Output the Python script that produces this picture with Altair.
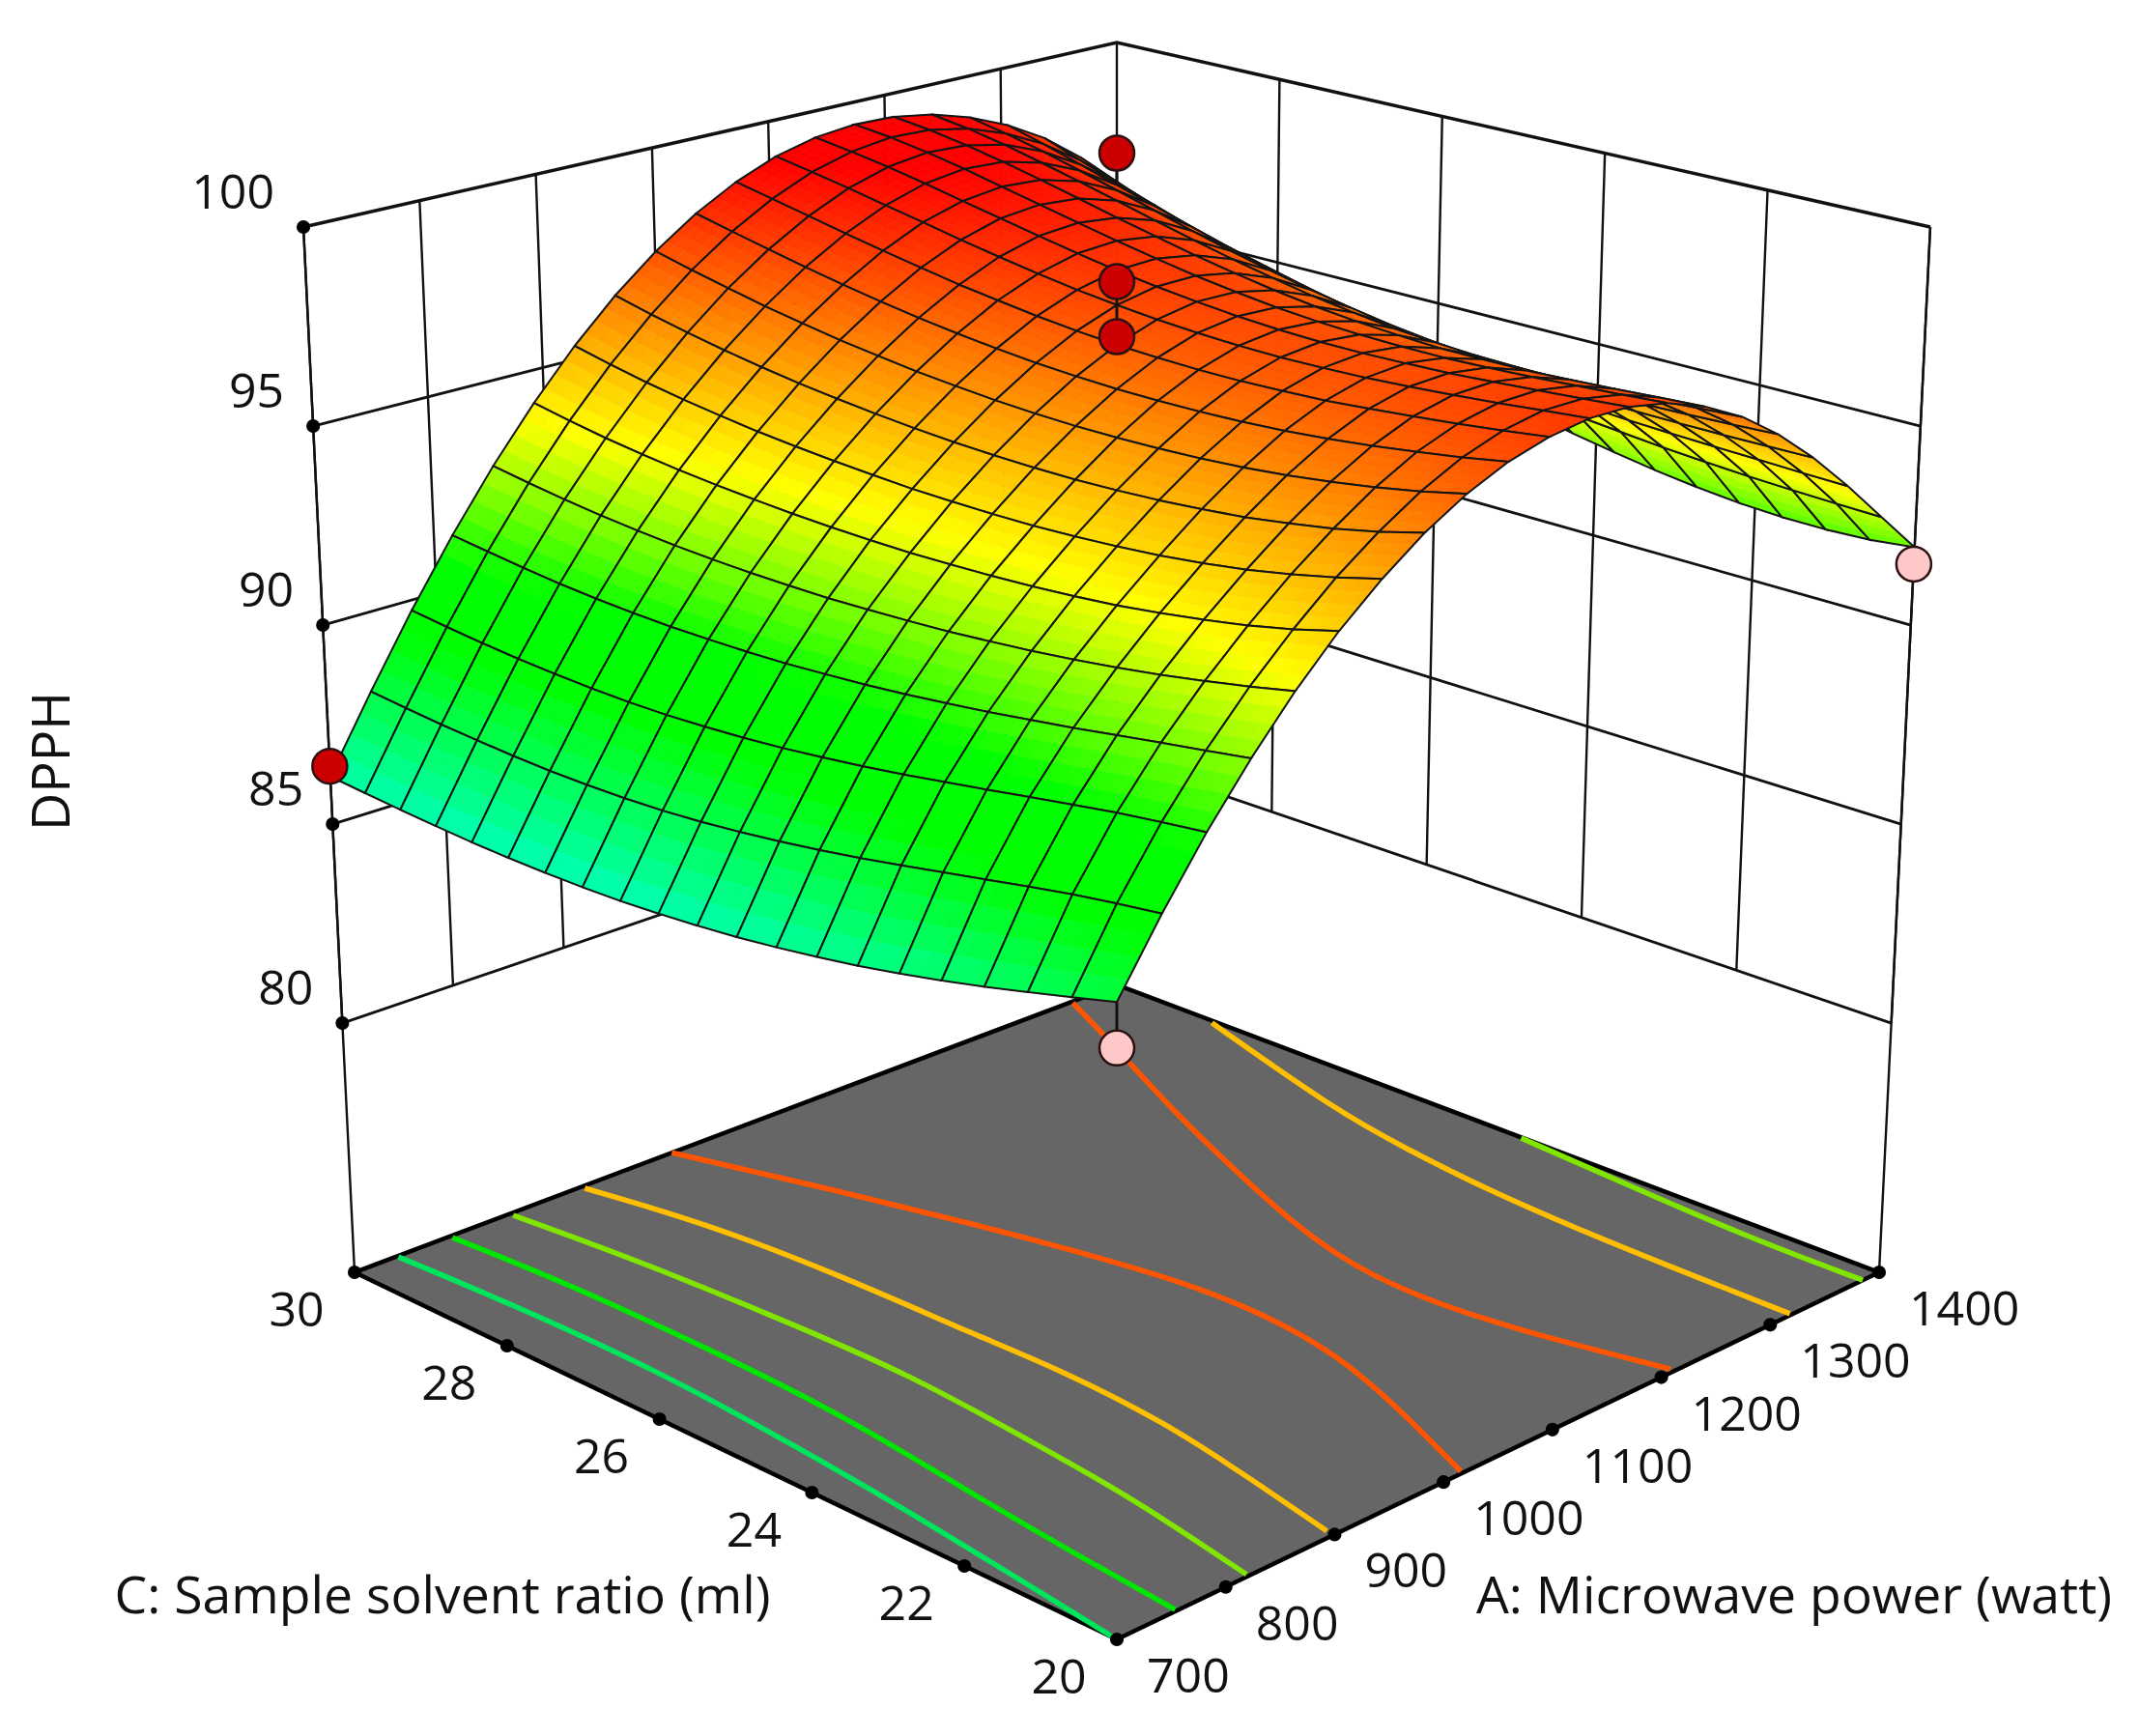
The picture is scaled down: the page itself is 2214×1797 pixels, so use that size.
import altair as alt
import pandas as pd

# ---- data ----
A_TICKS = [700, 800, 900, 1000, 1100, 1200, 1300, 1400]
C_TICKS = [20, 22, 24, 26, 28, 30]
Z_TICKS = [80, 85, 90, 95, 100]
A_GRID = [700 + 35 * i for i in range(21)]
C_GRID = [20 + 0.5 * j for j in range(21)]
# DPPH, one row per C_GRID value, one column per A_GRID value
DPPH = [
 [88.31,89.92,91.39,92.70,93.87,94.89,95.75,96.48,97.06,97.49,97.77,97.91,97.89,97.70,97.34,96.82,96.12,95.27,94.29,93.24,92.19],
 [88.03,89.78,91.26,92.53,93.64,94.61,95.47,96.20,96.82,97.30,97.63,97.81,97.80,97.62,97.27,96.75,96.07,95.26,94.32,93.27,92.07],
 [87.76,89.62,91.12,92.37,93.44,94.38,95.23,95.97,96.62,97.14,97.50,97.70,97.72,97.55,97.20,96.68,96.03,95.25,94.36,93.31,92.03],
 [87.50,89.43,90.95,92.20,93.25,94.19,95.03,95.79,96.45,96.99,97.39,97.61,97.64,97.48,97.14,96.63,96.00,95.25,94.39,93.36,92.04],
 [87.26,89.23,90.78,92.03,93.09,94.03,94.87,95.63,96.31,96.87,97.29,97.53,97.57,97.43,97.09,96.60,95.98,95.26,94.43,93.43,92.10],
 [87.04,89.03,90.60,91.88,92.95,93.89,94.74,95.52,96.20,96.77,97.20,97.46,97.53,97.39,97.08,96.60,95.99,95.29,94.48,93.51,92.21],
 [86.84,88.83,90.43,91.73,92.83,93.79,94.65,95.43,96.12,96.70,97.15,97.42,97.50,97.39,97.08,96.62,96.03,95.34,94.55,93.61,92.35],
 [86.67,88.64,90.26,91.60,92.73,93.71,94.58,95.37,96.07,96.66,97.11,97.40,97.50,97.41,97.13,96.68,96.09,95.41,94.64,93.72,92.53],
 [86.52,88.47,90.11,91.48,92.64,93.65,94.53,95.33,96.04,96.64,97.10,97.41,97.53,97.46,97.20,96.76,96.19,95.51,94.74,93.85,92.72],
 [86.39,88.32,89.98,91.38,92.58,93.61,94.51,95.32,96.03,96.64,97.12,97.45,97.59,97.54,97.30,96.89,96.32,95.64,94.87,94.00,92.94],
 [86.29,88.19,89.86,91.30,92.53,93.58,94.51,95.33,96.05,96.67,97.16,97.51,97.68,97.66,97.44,97.04,96.49,95.80,95.03,94.17,93.17],
 [86.21,88.08,89.77,91.23,92.49,93.58,94.52,95.36,96.09,96.72,97.23,97.60,97.79,97.80,97.61,97.23,96.68,95.99,95.21,94.36,93.41],
 [86.15,88.00,89.70,91.19,92.48,93.59,94.56,95.41,96.16,96.80,97.33,97.71,97.93,97.97,97.80,97.44,96.90,96.21,95.42,94.57,93.67],
 [86.12,87.95,89.65,91.17,92.48,93.62,94.61,95.48,96.24,96.90,97.45,97.85,98.10,98.16,98.02,97.67,97.14,96.46,95.66,94.81,93.93],
 [86.11,87.93,89.63,91.16,92.50,93.67,94.68,95.57,96.35,97.02,97.58,98.01,98.28,98.36,98.24,97.92,97.40,96.72,95.92,95.06,94.20],
 [86.12,87.93,89.64,91.18,92.54,93.73,94.76,95.67,96.47,97.16,97.74,98.18,98.47,98.57,98.48,98.18,97.68,97.01,96.21,95.35,94.48],
 [86.15,87.96,89.67,91.22,92.60,93.81,94.87,95.80,96.62,97.32,97.91,98.37,98.66,98.78,98.71,98.43,97.96,97.31,96.52,95.65,94.77],
 [86.20,88.01,89.72,91.28,92.68,93.91,94.99,95.95,96.78,97.50,98.09,98.55,98.86,98.99,98.93,98.67,98.23,97.61,96.85,95.98,95.08],
 [86.26,88.07,89.79,91.37,92.78,94.03,95.14,96.12,96.97,97.69,98.28,98.74,99.04,99.17,99.12,98.90,98.49,97.91,97.19,96.34,95.40],
 [86.33,88.15,89.88,91.47,92.90,94.18,95.32,96.31,97.17,97.89,98.47,98.91,99.19,99.32,99.28,99.08,98.72,98.21,97.54,96.73,95.73],
 [86.41,88.24,89.98,91.58,93.04,94.35,95.52,96.53,97.39,98.10,98.66,99.07,99.32,99.42,99.39,99.22,98.91,98.48,97.90,97.14,96.09],
]
# design points
POINT_A = [700, 1400, 700, 1050, 1050, 1050]
POINT_C = [30, 20, 20, 25, 25, 25]
POINT_Z = [86.67, 91.77, 87.27, 101.76, 98.69, 97.36]
POINT_FILL = ["#cc0000", "#ffc8c8", "#ffc8c8", "#cc0000", "#cc0000", "#cc0000"]
# floor contours (A, C)
CONTOURS = [
 ("#00e65c", [735,741,744,734,724,712,700], [29.98,28.55,26.42,24.35,22.82,21.41,20.0]),
 ("#00e600", [779,787,787,784,766,756,749], [29.96,28.37,26.48,24.62,22.62,21.25,20.02]),
 ("#80e600", [830,842,848,852,839,831,809], [29.95,28.33,26.55,24.78,22.86,21.7,20.03]),
 ("#ffbf00", [892,912,920,920,923,917,898,882], [29.95,28.52,26.74,24.93,23.93,22.5,21.15,20.09]),
 ("#ff5500", [972,1010,1037,1052,1070,1072,1061,1036,996], [30,28.14,26.68,25.75,24.46,23.36,22.35,21.35,20.03]),
 ("#ff5500", [1353,1315,1264,1222,1193,1169,1160,1167,1194], [29.97,28.78,27.27,25.85,24.83,23.79,22.81,21.64,20.05]),
 ("#ffbf00", [1397,1344,1330,1318,1313,1311,1310], [28.58,26.13,25.02,23.8,22.61,21.58,20.02]),
 ("#80e600", [1399,1392,1382,1383], [24.4,23.16,21.35,20.0]),
]
COLOR_STOPS = [(85.8,(0,255,200)),(89.5,(0,255,0)),(91.0,(0,255,0)),(94.0,(255,255,0)),(99.0,(255,0,0))]

# ---- view of the box ----
Z0, ZS = 73.32, 26.68
def proj(A, C, Z):
    a = (A - 700) / 700; c = (C - 20) / 10; t = (Z - Z0) / ZS
    w = 1 + 0.1384 * (a + c) - 0.0716 * t
    return 1156 + 898.2 * (a - c) / w, (1697 - 197.7 * (a + c) - 1248.6 * t) / w

def colour(z):
    if z <= COLOR_STOPS[0][0]:
        r = COLOR_STOPS[0][1]
    elif z >= COLOR_STOPS[-1][0]:
        r = COLOR_STOPS[-1][1]
    else:
        for (z0, c0), (z1, c1) in zip(COLOR_STOPS, COLOR_STOPS[1:]):
            if z0 <= z <= z1:
                f = (z - z0) / (z1 - z0)
                r = tuple(round(p + (q - p) * f) for p, q in zip(c0, c1))
                break
    return "#%02x%02x%02x" % tuple(r)

def lerp(p, q, f):
    return (p[0] + (q[0] - p[0]) * f, p[1] + (q[1] - p[1]) * f)

rows_poly = []; gid = 0
def add(points, fill, stroke, width):
    global gid
    for k, (x, y) in enumerate(points):
        rows_poly.append({"x": round(x, 1), "y": round(y, 1), "k": len(rows_poly), "g": gid,
                          "f": fill, "s": stroke, "w": width})
    gid += 1

SUB = 4
cells = sorted(((i, j) for i in range(20) for j in range(20)), key=lambda q: -(q[0] + q[1]))
for i, j in cells:
    z00, z10, z01, z11 = DPPH[j][i], DPPH[j][i+1], DPPH[j+1][i], DPPH[j+1][i+1]
    def node(u, v):
        A = A_GRID[i] + 35 * u; C = C_GRID[j] + 0.5 * v
        Z = z00*(1-u)*(1-v) + z10*u*(1-v) + z01*(1-u)*v + z11*u*v
        return proj(A, C, Z), Z
    for su in range(SUB - 1, -1, -1):
        for sv in range(SUB - 1, -1, -1):
            u0, u1, v0, v1 = su/SUB, (su+1)/SUB, sv/SUB, (sv+1)/SUB
            col = colour(node((u0+u1)/2, (v0+v1)/2)[1])
            add([node(u0,v0)[0], node(u1,v0)[0], node(u1,v1)[0], node(u0,v1)[0], node(u0,v0)[0]], col, col, 0.7)
    add([node(0,0)[0], node(1,0)[0], node(1,1)[0], node(0,1)[0], node(0,0)[0]], "transparent", "#141414", 2)
surface_df = pd.DataFrame(rows_poly)

xs = alt.Scale(domain=[8, 2206], nice=False, zero=False)
ys = alt.Scale(domain=[1789, 8], nice=False, zero=False)
X = alt.X("x:Q", scale=xs, axis=None)
Y = alt.Y("y:Q", scale=ys, axis=None)

def polys(df, **mark):
    return alt.Chart(df).mark_line(clip=False, **mark).encode(
        x=X, y=Y, order="k:Q", detail="g:N",
        fill=alt.Fill("f:N", scale=None),
        stroke=alt.Stroke("s:N", scale=None),
        strokeWidth=alt.StrokeWidth("w:N", scale=None))

def segs(seglist):
    out = []
    for g, (pts, colr, w) in enumerate(seglist):
        for k, (x, y) in enumerate(pts):
            out.append({"x": x, "y": y, "k": k, "g": g, "s": colr, "w": w})
    return pd.DataFrame(out)

def lines(seglist, **mark):
    return alt.Chart(segs(seglist)).mark_line(clip=False, **mark).encode(
        x=X, y=Y, order="k:Q", detail="g:N",
        stroke=alt.Stroke("s:N", scale=None),
        strokeWidth=alt.StrokeWidth("w:N", scale=None))

F = proj(700, 20, Z0); R = proj(1400, 20, Z0); L = proj(700, 30, Z0); B = proj(1400, 30, Z0)
floor_rows = []
for k, p in enumerate([F, R, B, L, F]):
    floor_rows.append({"x": p[0], "y": p[1], "k": k, "g": 0, "f": "#666666", "s": "#000000", "w": 4.5})
floor = polys(pd.DataFrame(floor_rows))

contour_lines = lines([([proj(a, c, Z0) for a, c in zip(As, Cs)], colr, 5.5) for colr, As, Cs in CONTOURS],
                      interpolate="basis")

Ltop, Btop, Rtop = proj(700, 30, 100), proj(1400, 30, 100), proj(1400, 20, 100)
L80, B80, R80 = proj(700, 30, 80), proj(1400, 30, 80), proj(1400, 20, 80)
wall = []
for z in Z_TICKS:
    f = (z - 80) / 20
    wall.append(([lerp(L80, Ltop, f), lerp(B80, Btop, f), lerp(R80, Rtop, f)], "#111111", 3.5 if z == 100 else 2.8))
for n in range(len(A_TICKS)):
    f = n / (len(A_TICKS) - 1)
    wall.append(([lerp(Ltop, Btop, f), lerp(L80, B80, f)], "#111111", 2.4))
for n in range(1, len(C_TICKS)):
    f = n / (len(C_TICKS) - 1)
    wall.append(([lerp(Btop, Rtop, f), lerp(B80, R80, f)], "#111111", 2.4))
wall.append(([L, Ltop], "#111111", 2.4))
wall.append(([R, Rtop], "#111111", 2.4))
wall_lines = lines(wall)

surface = polys(surface_df)

pts = [proj(a, c, z) for a, c, z in zip(POINT_A, POINT_C, POINT_Z)]
poles = lines([
    ([proj(1400, 20, DPPH[0][20]), pts[1]], "#111111", 3),
    ([proj(700, 20, DPPH[0][0]), pts[2]], "#111111", 3),
    ([pts[4], pts[5]], "#111111", 3),
    ([pts[3], proj(1050, 25, 101.0)], "#111111", 3),
])
points_df = pd.DataFrame({"x": [p[0] for p in pts], "y": [p[1] for p in pts], "f": POINT_FILL})
points = alt.Chart(points_df).mark_point(filled=True, size=1300, opacity=1, stroke="#2a1010", strokeWidth=2.5, clip=False).encode(
    x=X, y=Y, fill=alt.Fill("f:N", scale=None))

tick_xy = []
for n in range(len(A_TICKS)):
    tick_xy.append(lerp(F, R, n / (len(A_TICKS) - 1)))
for n in range(1, len(C_TICKS)):
    tick_xy.append(lerp(F, L, n / (len(C_TICKS) - 1)))
for z in Z_TICKS:
    tick_xy.append(lerp(L80, Ltop, (z - 80) / 20))
tick_df = pd.DataFrame({"x": [p[0] for p in tick_xy], "y": [p[1] for p in tick_xy]})
tick_dots = alt.Chart(tick_df).mark_point(filled=True, size=200, color="#000000", opacity=1, clip=False).encode(x=X, y=Y)

FONT = "Open Sans"; FS = 50; FT = 53.5
def labels(rows, align):
    return alt.Chart(pd.DataFrame(rows)).mark_text(font=FONT, fontSize=FS, align=align, baseline="middle",
                                                   color="#111111", clip=False).encode(x=X, y=Y, text="t:N")
lab_a = labels([{"x": lerp(F, R, n/7)[0] + 31, "y": lerp(F, R, n/7)[1] + 40, "t": str(v)} for n, v in enumerate(A_TICKS)], "left")
lab_c = labels([{"x": lerp(F, L, n/5)[0] - 60, "y": lerp(F, L, n/5)[1] + 41, "t": str(v)} for n, v in enumerate(C_TICKS)], "center")
lab_z = labels([{"x": lerp(L80, Ltop, (v-80)/20)[0] - 30, "y": lerp(L80, Ltop, (v-80)/20)[1] - 34, "t": str(v)} for v in Z_TICKS], "right")

title_c = alt.Chart(pd.DataFrame({"x": [458], "y": [1654], "t": ["C: Sample solvent ratio (ml)"]})).mark_text(
    font=FONT, fontSize=FT, align="center", baseline="middle", color="#111111").encode(x=X, y=Y, text="t:N")
title_a = alt.Chart(pd.DataFrame({"x": [1857], "y": [1654], "t": ["A: Microwave power (watt)"]})).mark_text(
    font=FONT, fontSize=FT, align="center", baseline="middle", color="#111111").encode(x=X, y=Y, text="t:N")
title_z = alt.Chart(pd.DataFrame({"x": [56], "y": [788], "t": ["DPPH"]})).mark_text(
    font=FONT, fontSize=54, align="center", baseline="middle", angle=270, color="#111111").encode(x=X, y=Y, text="t:N")

chart = alt.layer(floor, contour_lines, wall_lines, surface, poles, points, tick_dots,
                  lab_a, lab_c, lab_z, title_c, title_a, title_z).properties(
    width=2198, height=1781, padding=0, background="white"
).configure_view(stroke=None)

chart.save("out.html", embed_options={"renderer": "svg", "actions": False})
